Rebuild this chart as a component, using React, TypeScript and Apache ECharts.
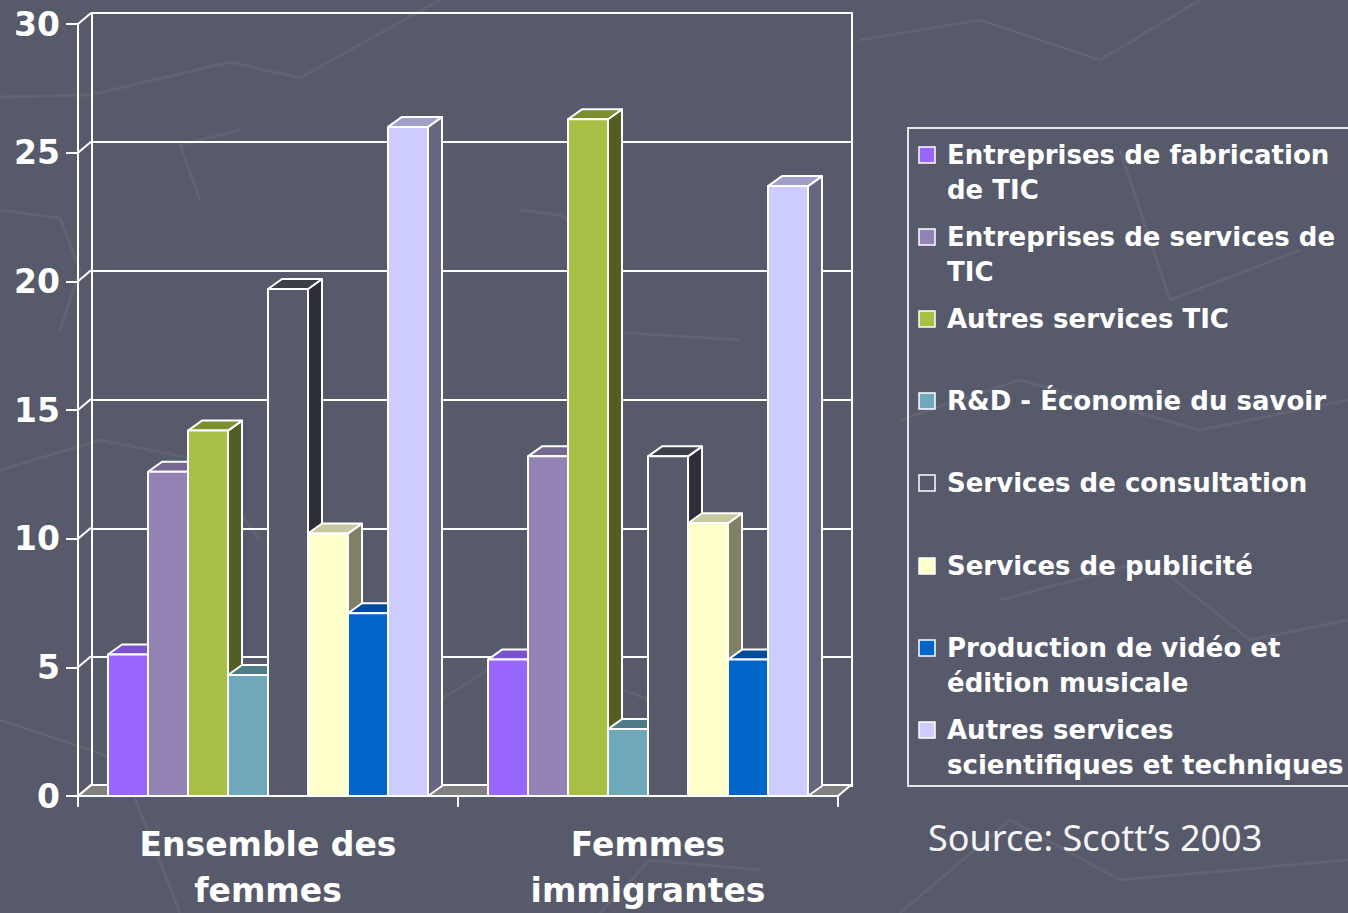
import React, { useEffect, useRef } from "react";
import * as echarts from "echarts";

const categories = ["Ensemble des\nfemmes", "Femmes\nimmigrantes"];
const legendLabels = [
  "Entreprises de fabrication\nde TIC",
  "Entreprises de services de\nTIC",
  "Autres services TIC",
  "R&D - Économie du savoir",
  "Services de consultation",
  "Services de publicité",
  "Production de vidéo et\nédition musicale",
  "Autres services\nscientifiques et techniques",
];
const seriesNames = legendLabels.map((s) => s.replace("\n", " "));
const ensembleValues = [5.5, 12.6, 14.2, 4.7, 19.7, 10.2, 7.1, 26.0];
const immigrantesValues = [5.3, 13.2, 26.3, 2.6, 13.2, 10.6, 5.3, 23.7];
const yTicks = [0, 5, 10, 15, 20, 25, 30];

const BG = "#575a6a";
const frontColors = ["#9966ff", "#9383b4", "#a6bf44", "#6fa8b8", BG, "#ffffcc", "#0066cc", "#ccccff"];
const topColors = ["#7a52cc", "#766990", "#7a8f30", "#4f7a88", "#3c3e48", "#c8c8a0", "#004c99", "#9f9fc7"];
const sideColors = ["#5c3d99", "#5a506e", "#525e22", "#3e6470", "#2e2f38", "#808066", "#003d7a", "#666680"];

const DX = 14;
const DY = 10;

export default function App() {
  const ref = useRef<HTMLDivElement>(null);
  useEffect(() => {
    document.body.style.margin = "0";
    const chart = echarts.init(ref.current!, null, { renderer: "svg" });

    const barSeries = seriesNames.map((name, s) => ({
      name,
      type: "custom",
      xAxisIndex: 1,
      yAxisIndex: 1,
      clip: false,
      z: 3,
      data: [
        [0, ensembleValues[s]],
        [1, immigrantesValues[s]],
      ],
      renderItem: (params: any, api: any) => {
        const c = api.coord([api.value(0), api.value(1)]);
        const base = api.coord([api.value(0), 0]);
        const bw = api.size([1, 0])[0];
        const barW = (bw * 40) / 380;
        const x0 = c[0] - 4 * barW + s * barW;
        const x1 = x0 + barW;
        const stroke = { stroke: "#ffffff", lineWidth: 2, lineJoin: "round" };
        return {
          type: "group",
          children: [
            {
              type: "polygon",
              shape: { points: [[x1, c[1]], [x1 + DX, c[1] - DY], [x1 + DX, base[1] - DY], [x1, base[1]]] },
              style: { fill: sideColors[s], ...stroke },
            },
            {
              type: "polygon",
              shape: { points: [[x0, c[1]], [x1, c[1]], [x1 + DX, c[1] - DY], [x0 + DX, c[1] - DY]] },
              style: { fill: topColors[s], ...stroke },
            },
            {
              type: "rect",
              shape: { x: x0, y: c[1], width: barW, height: base[1] - c[1] },
              style: { fill: frontColors[s], ...stroke },
            },
          ],
        };
      },
    }));

    const floorSeries = {
      name: "floor",
      type: "custom",
      xAxisIndex: 1,
      yAxisIndex: 1,
      clip: false,
      z: 2,
      silent: true,
      data: [[0, 0]],
      renderItem: (params: any, api: any) => {
        const bw = api.size([1, 0])[0];
        const c0 = api.coord([0, 0]);
        const c1 = api.coord([1, 0]);
        const L = c0[0] - bw / 2;
        const R = c1[0] + bw / 2;
        const y0 = c0[1];
        const children: any[] = [
          {
            type: "polygon",
            shape: { points: [[L, y0], [R, y0], [R + 13, y0 - 11], [L + 13, y0 - 11]] },
            style: { fill: "#808080", stroke: "#ffffff", lineWidth: 2 },
          },
        ];
        yTicks.forEach((v) => {
          const p = api.coord([0, v]);
          children.push({
            type: "line",
            shape: { x1: L, y1: p[1], x2: L + 13, y2: p[1] - 11 },
            style: { stroke: "#ffffff", lineWidth: 2 },
          });
        });
        return { type: "group", children };
      },
    };

    const bgLines = [
      [[0, 97], [90, 95], [230, 62], [300, 78], [440, 0]],
      [[0, 210], [60, 218], [80, 270], [60, 330]],
      [[200, 200], [180, 145], [240, 130]],
      [[520, 210], [560, 215], [620, 250], [580, 330], [740, 340]],
      [[0, 470], [100, 440], [200, 460], [260, 540]],
      [[300, 620], [440, 700], [520, 650], [650, 700], [700, 760]],
      [[0, 720], [120, 760], [180, 913]],
      [[860, 40], [980, 20], [1100, 60], [1200, 0]],
      [[900, 420], [1020, 380], [1200, 430], [1348, 400]],
      [[1000, 600], [1150, 560], [1250, 640], [1348, 620]],
      [[900, 913], [1010, 820], [1120, 880], [1348, 860]],
      [[600, 913], [650, 860], [760, 870]],
      [[1120, 150], [1170, 300], [1300, 250]],
    ];

    const legendGraphics: any[] = [
      {
        type: "rect",
        shape: { x: 908, y: 128, width: 480, height: 658 },
        style: { fill: "none", stroke: "#e6e6e6", lineWidth: 2 },
        z: 10,
      },
    ];
    const legendTops = [155, 237, 319, 401, 483, 566, 648, 730];
    legendLabels.forEach((label, i) => {
      const cy = legendTops[i];
      legendGraphics.push({
        type: "rect",
        shape: { x: 919, y: cy - 8, width: 16, height: 16 },
        style: { fill: frontColors[i], stroke: "#ffffff", lineWidth: 1.5 },
        z: 10,
      });
      legendGraphics.push({
        type: "text",
        x: 947,
        y: cy - 18,
        style: {
          text: label,
          fill: "#ffffff",
          font: "bold 26px 'DejaVu Sans'",
          lineHeight: 35,
          verticalAlign: "top",
        },
        z: 10,
      });
    });

    chart.setOption({
      animation: false,
      backgroundColor: BG,
      graphic: [
        ...bgLines.map((pts) => ({
          type: "polyline",
          shape: { points: pts },
          style: { stroke: "rgba(255,255,255,0.06)", lineWidth: 3, fill: "none" },
          z: -10,
          silent: true,
        })),
        ...legendGraphics,
        {
          type: "text",
          x: 928,
          y: 837,
          style: {
            text: "Source: Scott’s 2003",
            fill: "#f4f4f4",
            font: "36px 'Noto Sans'",
            verticalAlign: "middle",
          },
        },
      ],
      grid: [
        { left: 92, top: 13, width: 760, height: 773, show: true, borderColor: "#ffffff", borderWidth: 2, backgroundColor: "transparent" },
        { left: 78, top: 24, width: 760, height: 773 },
      ],
      xAxis: [
        { type: "category", gridIndex: 0, data: categories, show: false },
        {
          type: "category",
          gridIndex: 1,
          data: categories,
          axisLine: { show: true, lineStyle: { color: "#ffffff", width: 2 } },
          axisTick: { show: true, length: 11, lineStyle: { color: "#ffffff", width: 2 } },
          axisLabel: {
            color: "#ffffff",
            fontFamily: "'DejaVu Sans'",
            fontWeight: "bold",
            fontSize: 33,
            lineHeight: 46,
            margin: 25,
          },
          splitLine: { show: false },
        },
      ],
      yAxis: [
        {
          type: "value",
          gridIndex: 0,
          min: 0,
          max: 30,
          interval: 5,
          axisLine: { show: false },
          axisTick: { show: false },
          axisLabel: { show: false },
          splitLine: { show: true, lineStyle: { color: "#ffffff", width: 2 } },
        },
        {
          type: "value",
          gridIndex: 1,
          min: yTicks[0],
          max: yTicks[yTicks.length - 1],
          interval: 5,
          axisLine: { show: true, lineStyle: { color: "#ffffff", width: 2 } },
          axisTick: { show: true, length: 12, lineStyle: { color: "#ffffff", width: 2 } },
          axisLabel: {
            color: "#ffffff",
            fontFamily: "'DejaVu Sans'",
            fontWeight: "bold",
            fontSize: 33,
            margin: 18,
          },
          splitLine: { show: false },
        },
      ],
      series: [floorSeries, ...barSeries],
    });
    return () => chart.dispose();
  }, []);
  return <div ref={ref} style={{ width: 1348, height: 913 }} />;
}
